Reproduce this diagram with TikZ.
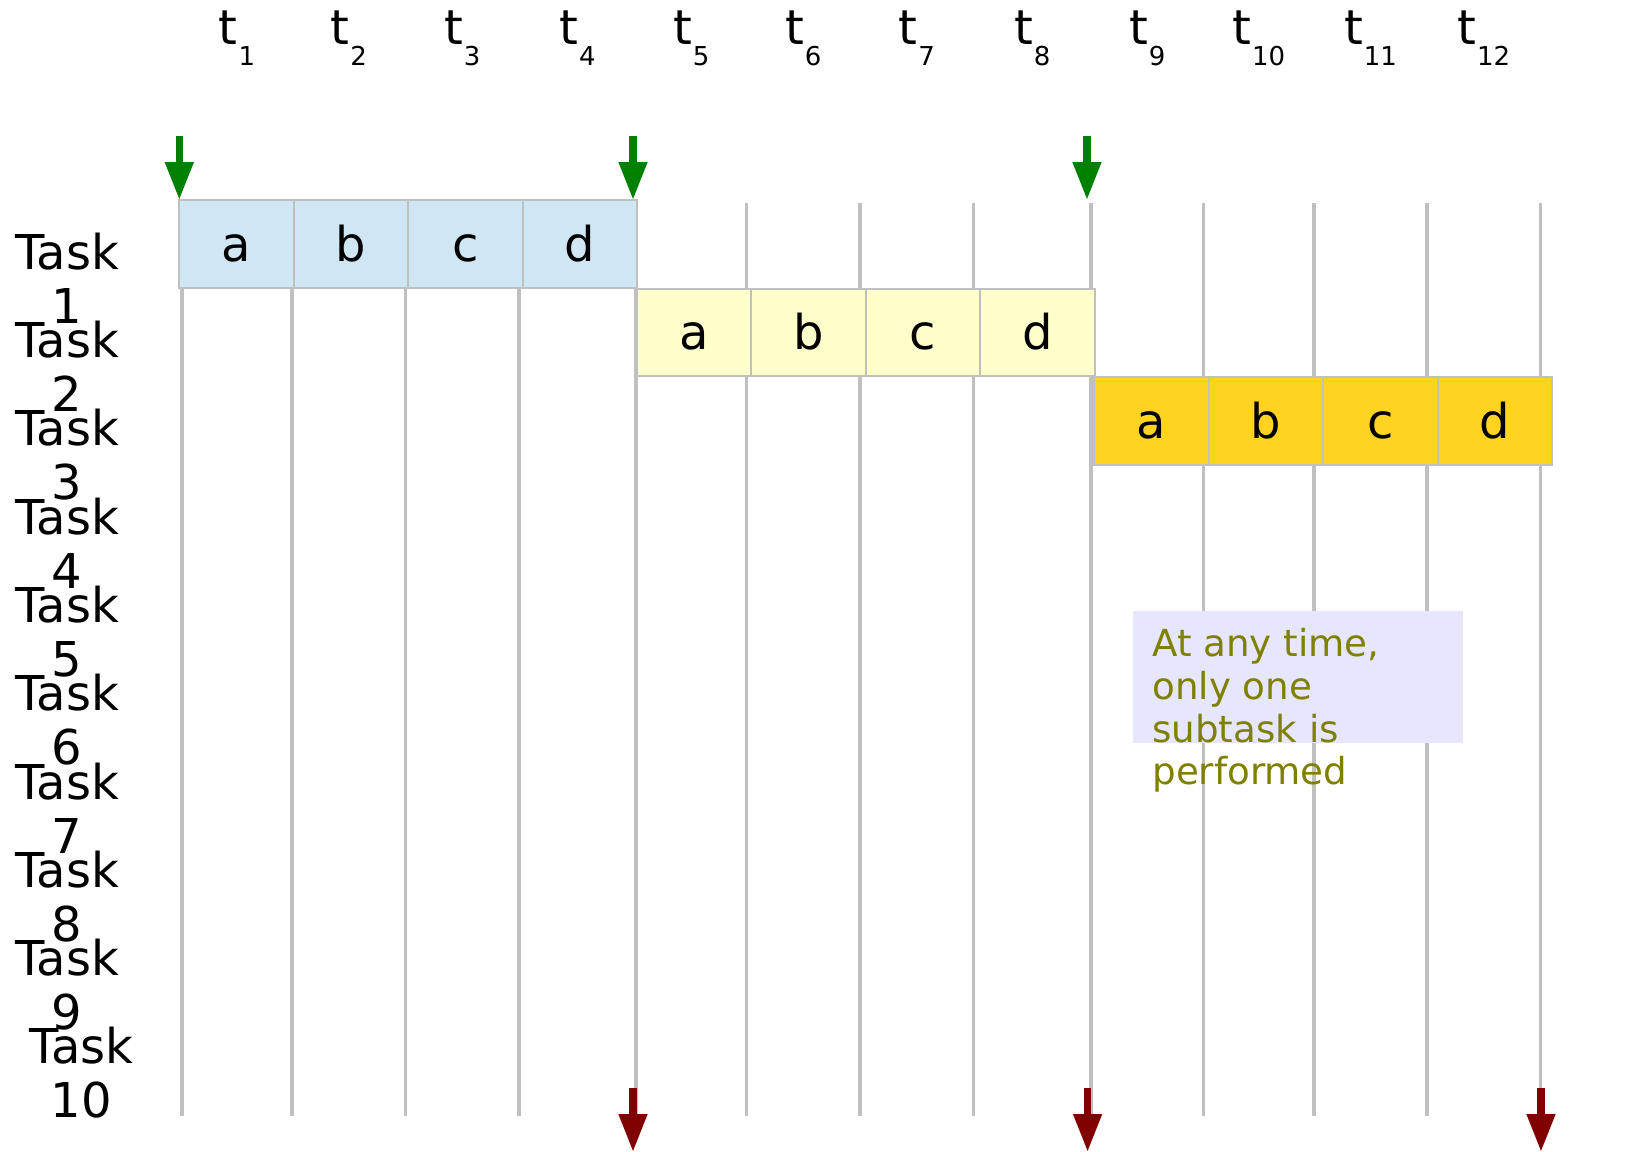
\documentclass[tikz,border=0pt]{standalone}
\usepackage{fontspec}
\setmainfont{DejaVu Sans}
\usetikzlibrary{arrows.meta}
\definecolor{gridgray}{HTML}{C0C0C0}
\definecolor{blueA}{HTML}{CFE7F5}
\definecolor{yellowB}{HTML}{FFFFCC}
\definecolor{goldC}{HTML}{FFD320}
\definecolor{greenarr}{HTML}{008000}
\definecolor{redarr}{HTML}{800000}
\definecolor{notebg}{HTML}{E6E6FF}
\definecolor{notefg}{HTML}{808000}
\begin{document}
\begin{tikzpicture}[x=0.5pt,y=-0.5pt,
  gridline/.style={draw=gridgray,line width=1.75pt},
  cell/.style={draw=gridgray,line width=1pt,minimum width=57.2pt,minimum height=43.85pt,
    inner sep=0pt,anchor=north west,font=\fontsize{24}{27}\selectfont,
    text height=18pt,text depth=0.75pt},
  tlabel/.style={anchor=base,inner sep=0pt,font=\fontsize{24}{27}\selectfont},
  tasklabel/.style={anchor=base,inner sep=0pt,align=center,font=\fontsize{24}{27}\selectfont},
  greenarrow/.style={draw=greenarr,line width=3.8pt,-{Triangle[width=13.5pt,length=19pt]},fill=greenarr},
  redarrow/.style={draw=redarr,line width=3.8pt,-{Triangle[width=13.5pt,length=19pt]},fill=redarr}
]
\useasboundingbox (0,0) rectangle (1646,1152);
% grid lines
\foreach \gx in {182,292,405.5,519,636,746.5,860,973.5,1091,1203.5,1314,1427,1540.5}
  \draw[gridline] (\gx,202.6) -- (\gx,1116);
% time labels
\foreach \i/\cx in {1/237,2/348.75,3/462.25,4/577.5,5/691.25,6/803.25,7/916.75,8/1032.25,9/1147.25,10/1258.75,11/1370.5,12/1483.75}
  \node[tlabel] (t\i) at (\cx,44) {t\kern0.5pt\raisebox{-10.5pt}{\fontsize{13}{13}\selectfont\i}};
% task cells
\foreach \k/\s in {0/a,1/b,2/c,3/d}
  \node[cell,fill=blueA] (r1\s) at ({178.4+\k*114.4},199) {\s};
\foreach \k/\s in {0/a,1/b,2/c,3/d}
  \node[cell,fill=yellowB] (r2\s) at ({636+\k*114.4},287.7) {\s};
\foreach \k/\s in {0/a,1/b,2/c,3/d}
  \node[cell,fill=goldC] (r3\s) at ({1093.4+\k*114.4},376.4) {\s};
% task labels (anchor = baseline of the last line)
\foreach \i in {1,...,9}
  \node[tasklabel] (task\i) at (67,{323.3+(\i-1)*88.3}) {Task\\\i};
\node[tasklabel] (task10) at (81.5,1117) {Task\\10};
% note
\node[fill=notebg,minimum width=165.15pt,minimum height=65.85pt,anchor=north west,inner sep=0pt] (notebox) at (1132.7,611) {};
\node[anchor=base west,align=left,text=notefg,font=\fontsize{18.6}{21.35}\selectfont,inner sep=0pt] (note) at (1152,784.8) {At any time,\\only one\\subtask is\\performed};
% arrows
\foreach \n/\ax in {1/179.3,2/633,3/1087}{
  \coordinate (gs\n) at (\ax,135.7);
  \coordinate (ge\n) at (\ax,200);
  \draw[greenarrow] (gs\n) -- (ge\n);
}
\foreach \n/\ax in {1/633,2/1087.6,3/1541}{
  \coordinate (rs\n) at (\ax,1088);
  \coordinate (re\n) at (\ax,1152);
  \draw[redarrow] (rs\n) -- (re\n);
}
\end{tikzpicture}
\end{document}
